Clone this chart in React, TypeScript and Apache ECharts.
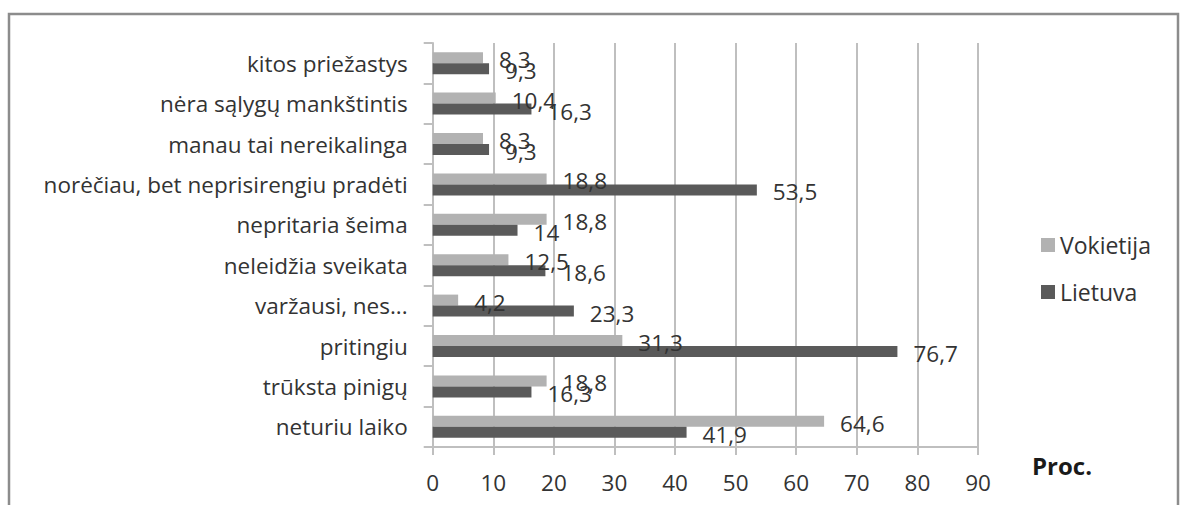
import React, { useEffect, useRef } from "react";
import * as echarts from "echarts";

const categories = [
  "neturiu laiko",
  "trūksta pinigų",
  "pritingiu",
  "varžausi, nes...",
  "neleidžia sveikata",
  "nepritaria šeima",
  "norėčiau, bet neprisirengiu pradėti",
  "manau tai nereikalinga",
  "nėra sąlygų mankštintis",
  "kitos priežastys",
];
const vokietija = [64.6, 18.8, 31.3, 4.2, 12.5, 18.8, 18.8, 8.3, 10.4, 8.3];
const lietuva = [41.9, 16.3, 76.7, 23.3, 18.6, 14, 53.5, 9.3, 16.3, 9.3];
const seriesNames = ["Vokietija", "Lietuva"];
const xTicks = { min: 0, max: 90, interval: 10 };
const axisTitle = "Proc.";

const FONT = "'Open Sans', sans-serif";
const TEXT = "#333333";
const GRID = "#bfbfbf";
const FS = 22.5;

const fmt = (p: any) => String(p.value).replace(".", ",");

export default function App() {
  const ref = useRef<HTMLDivElement>(null);
  useEffect(() => {
    if (!ref.current) return;
    const chart = echarts.init(ref.current, undefined, { renderer: "svg" });
    const label = {
      show: true,
      position: "right",
      distance: 16,
      offset: [0, 2],
      formatter: fmt,
      fontFamily: FONT,
      fontSize: FS,
      color: TEXT,
    };
    chart.setOption({
      animation: false,
      backgroundColor: "#ffffff",
      textStyle: { fontFamily: FONT },
      grid: { left: 432.7, right: 205, top: 43, bottom: 58, containLabel: false },
      legend: {
        data: seriesNames,
        orient: "vertical",
        left: 1036,
        top: 228.5,
        itemWidth: 14,
        itemHeight: 14,
        itemGap: 24,
        icon: "rect",
        textStyle: { fontFamily: FONT, fontSize: 23, color: TEXT, lineHeight: 23 },
      },
      xAxis: {
        type: "value",
        min: xTicks.min,
        max: xTicks.max,
        interval: xTicks.interval,
        axisLine: { show: true, lineStyle: { color: GRID, width: 2 } },
        axisTick: { show: true, length: 8, lineStyle: { color: GRID, width: 2 } },
        splitLine: { show: true, lineStyle: { color: GRID, width: 2 } },
        axisLabel: { fontFamily: FONT, fontSize: FS, color: TEXT, margin: 23.5 },
      },
      yAxis: {
        type: "category",
        data: categories,
        axisLine: { show: true, lineStyle: { color: GRID, width: 2 } },
        axisTick: { show: true, length: 9, lineStyle: { color: GRID, width: 2 } },
        axisLabel: { fontFamily: FONT, fontSize: FS, color: TEXT, margin: 25 },
      },
      graphic: [
        {
          type: "rect",
          shape: { x: 9, y: 14, width: 1169, height: 560 },
          style: { fill: "none", stroke: "#8c8c8c", lineWidth: 2.5 },
          silent: true,
        },
        {
          type: "text",
          x: 1062,
          y: 465,
          style: {
            text: axisTitle,
            font: `bold 24px ${FONT}`,
            fill: "#1a1a1a",
            textAlign: "center",
            textVerticalAlign: "middle",
          },
        },
      ],
      series: [
        {
          name: seriesNames[0],
          type: "bar",
          data: vokietija,
          barWidth: 11,
          barGap: "0%",
          itemStyle: { color: "#b2b2b2" },
          label,
        },
        {
          name: seriesNames[1],
          type: "bar",
          data: lietuva,
          barWidth: 11,
          barGap: "0%",
          itemStyle: { color: "#5a5a5a" },
          label,
        },
      ],
    });
    return () => chart.dispose();
  }, []);
  return (
    <div
      ref={ref}
      style={{ position: "fixed", left: 0, top: 0, width: 1183, height: 505, background: "#fff" }}
    />
  );
}
